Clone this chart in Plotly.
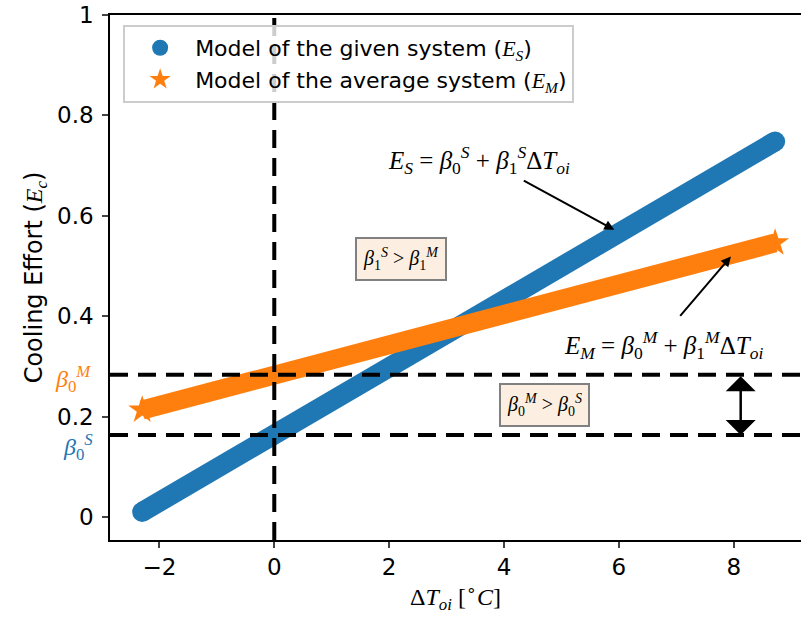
import plotly.graph_objects as go

# ---- data ----
x_ends = [-2.3, 8.72]              # delta T_oi range of the modelled points
blue_y = [0.01, 0.748]             # Model of the given system (E_S)
orange_y = [0.213, 0.546]          # Model of the average system (E_M)
beta0_S = 0.163
beta0_M = 0.283
y_ticks = [0, 0.2, 0.4, 0.6, 0.8, 1]
y_tick_text = ["0", "0.2", "0.4", "0.6", "0.8", "1"]
x_ticks = [-2, 0, 2, 4, 6, 8]
x_tick_text = ["\u22122", "0", "2", "4", "6", "8"]

BLUE = "#1f77b4"
ORANGE = "#ff7f0e"
SERIF = "Liberation Serif"
SANS = "DejaVu Sans"

def m(s):
    return f"<span style='font-family:{SERIF}'>{s}</span>"

fig = go.Figure()

fig.add_trace(go.Scatter(
    x=x_ends, y=blue_y, mode="lines+markers",
    line=dict(color=BLUE, width=20),
    marker=dict(symbol="circle", size=20, color=BLUE),
    showlegend=False, hoverinfo="skip"))
fig.add_trace(go.Scatter(
    x=x_ends, y=orange_y, mode="lines+markers",
    line=dict(color=ORANGE, width=19),
    marker=dict(symbol="star", size=21, color=ORANGE),
    showlegend=False, hoverinfo="skip"))

# legend entries
fig.add_trace(go.Scatter(
    x=[None], y=[None], mode="markers", legendgroup="a",
    marker=dict(symbol="circle", size=16, color=BLUE),
    name="Model of the given system (" + m("<i>E</i><sub><i>S</i></sub>") + ")"))
fig.add_trace(go.Scatter(
    x=[None], y=[None], mode="markers", legendgroup="b",
    marker=dict(symbol="star", size=16, color=ORANGE),
    name="Model of the average system (" + m("<i>E</i><sub><i>M</i></sub>") + ")"))

dash = "18px,10px"
fig.add_shape(type="line", xref="paper", yref="y", x0=0, x1=1, y0=beta0_M, y1=beta0_M,
              line=dict(color="black", width=4, dash=dash))
fig.add_shape(type="line", xref="paper", yref="y", x0=0, x1=1, y0=beta0_S, y1=beta0_S,
              line=dict(color="black", width=4, dash=dash))
fig.add_shape(type="line", xref="x", yref="paper", x0=0, x1=0, y0=0, y1=1,
              line=dict(color="black", width=4, dash=dash))

ann = []
# formula texts
ann.append(dict(x=3.57, y=0.712, xref="x", yref="y", showarrow=False,
                text="<i>E</i><sub><i>S</i></sub> = <i>β</i><sub>0</sub><sup><i>S</i></sup> + <i>β</i><sub>1</sub><sup><i>S</i></sup>Δ<i>T</i><sub><i>oi</i></sub>",
                font=dict(family=SERIF, size=25, color="black")))
ann.append(dict(x=6.77, y=0.343, xref="x", yref="y", showarrow=False,
                text="<i>E</i><sub><i>M</i></sub> = <i>β</i><sub>0</sub><sup><i>M</i></sup> + <i>β</i><sub>1</sub><sup><i>M</i></sup>Δ<i>T</i><sub><i>oi</i></sub>",
                font=dict(family=SERIF, size=25, color="black")))
# arrows to lines
ann.append(dict(x=5.92, y=0.572, xref="x", yref="y", text="", showarrow=True,
                ax=-92, ay=-50, arrowhead=2, arrowsize=1, arrowwidth=2, arrowcolor="black"))
ann.append(dict(x=7.95, y=0.519, xref="x", yref="y", text="", showarrow=True,
                ax=-52, ay=61, arrowhead=2, arrowsize=1, arrowwidth=2, arrowcolor="black"))
# double arrow
ann.append(dict(x=8.12, y=beta0_S, xref="x", yref="y", ax=8.12, ay=beta0_M,
                axref="x", ayref="y", text="", showarrow=True, arrowside="end+start",
                arrowhead=1, startarrowhead=1, arrowsize=2.0, startarrowsize=2.0,
                arrowwidth=2.5, arrowcolor="black"))
# boxes
box = dict(bgcolor="#fcefe1", bordercolor="#808080", borderwidth=2, borderpad=6,
           font=dict(family=SERIF, size=20, color="black"), showarrow=False,
           xref="x", yref="y")
ann.append(dict(box, x=2.2, y=0.514,
                text="<i>β</i><sub>1</sub><sup><i>S</i></sup> > <i>β</i><sub>1</sub><sup><i>M</i></sup>"))
ann.append(dict(box, x=4.71, y=0.222,
                text="<i>β</i><sub>0</sub><sup><i>M</i></sup> > <i>β</i><sub>0</sub><sup><i>S</i></sup>"))
# beta labels on the y axis
ann.append(dict(x=-0.053, y=0.275, xref="paper", yref="y", showarrow=False,
                xanchor="center", yanchor="middle",
                text="<i>β</i><sub>0</sub><sup><i>M</i></sup>",
                font=dict(family=SERIF, size=24, color=ORANGE)))
ann.append(dict(x=-0.047, y=0.140, xref="paper", yref="y", showarrow=False,
                xanchor="center", yanchor="middle",
                text="<i>β</i><sub>0</sub><sup><i>S</i></sup>",
                font=dict(family=SERIF, size=24, color=BLUE)))

fig.update_layout(
    width=802, height=617,
    margin=dict(l=110, r=1, t=15, b=77),
    paper_bgcolor="white", plot_bgcolor="white",
    font=dict(family=SANS, size=22, color="black"),
    annotations=ann,
    legend=dict(x=0.019, y=0.981, xanchor="left", yanchor="top",
                bgcolor="rgba(255,255,255,0.8)", bordercolor="#cccccc", borderwidth=2,
                font=dict(family=SANS, size=22, color="black"),
                itemsizing="trace", itemwidth=60, tracegroupgap=0),
    xaxis=dict(range=[-2.86, 9.17], tickvals=x_ticks, ticktext=x_tick_text,
               showgrid=False, zeroline=False, showline=True, linecolor="black",
               linewidth=1.5, mirror=True, ticks="outside", ticklen=6, tickwidth=1.5,
               tickfont=dict(family=SANS, size=23),
               title=dict(text="Δ<i>T</i><sub><i>oi</i></sub> [<sup>∘</sup><i>C</i>]",
                          font=dict(family=SERIF, size=24), standoff=8)),
    yaxis=dict(range=[-0.046, 1.0], tickvals=y_ticks, ticktext=y_tick_text,
               showgrid=False, zeroline=False, showline=True, linecolor="black",
               linewidth=1.5, mirror=False, ticks="outside", ticklen=6, tickwidth=1.5,
               tickfont=dict(family=SANS, size=23), ticklabelstandoff=4,
               title=dict(text="Cooling Effort (" + m("<i>E</i><sub><i>c</i></sub>") + ")",
                          font=dict(family=SANS, size=24), standoff=8)),
)

fig.write_html("out.html")
